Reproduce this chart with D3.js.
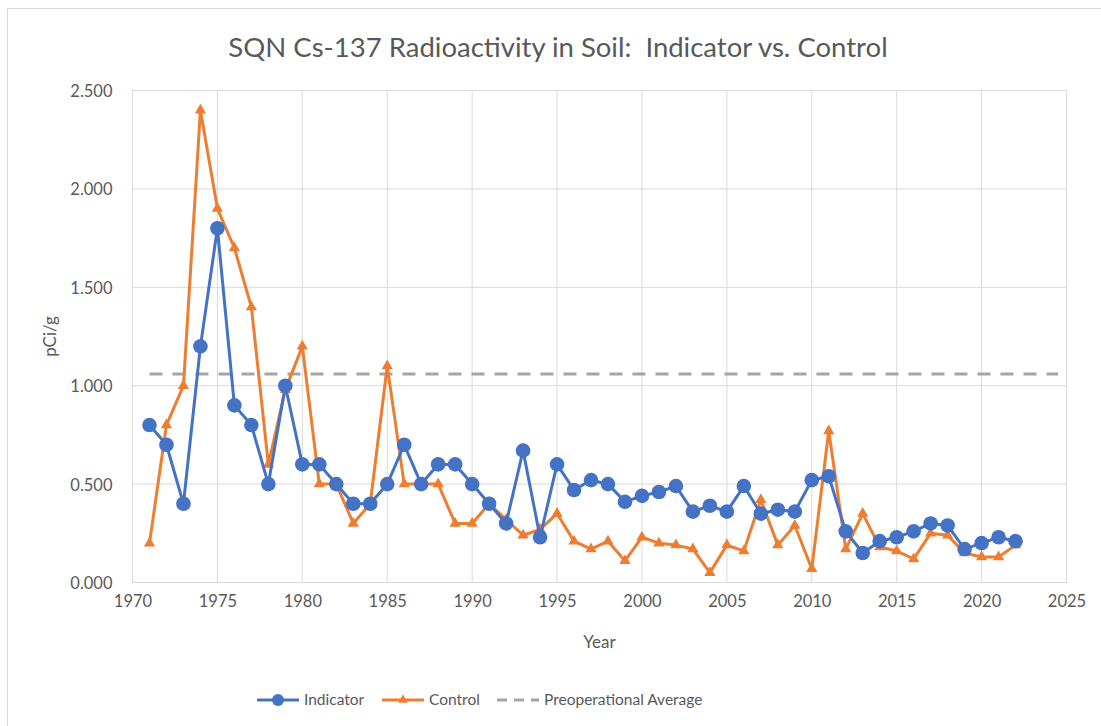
<!DOCTYPE html>
<html>
<head>
<meta charset="utf-8">
<script src="https://cdn.jsdelivr.net/npm/d3@7"></script>
<style>
  body { margin: 0; background: #fff; }
  svg { font-family: Lato, "Open Sans", sans-serif; }
</style>
</head>
<body>
<svg width="1101" height="726"></svg>
<script>
// years sampled
var years = [1971,1972,1973,1974,1975,1976,1977,1978,1979,1980,
             1981,1982,1983,1984,1985,1986,1987,1988,1989,1990,
             1991,1992,1993,1994,1995,1996,1997,1998,1999,2000,
             2001,2002,2003,2004,2005,2006,2007,2008,2009,2010,
             2011,2012,2013,2014,2015,2016,2017,2018,2019,2020,
             2021,2022];

var indicator = [0.80,0.70,0.40,1.20,1.80,0.90,0.80,0.50,1.00,0.60,
                 0.60,0.50,0.40,0.40,0.50,0.70,0.50,0.60,0.60,0.50,
                 0.40,0.30,0.67,0.23,0.60,0.47,0.52,0.50,0.41,0.44,
                 0.46,0.49,0.36,0.39,0.36,0.49,0.35,0.37,0.36,0.52,
                 0.54,0.26,0.15,0.21,0.23,0.26,0.30,0.29,0.17,0.20,
                 0.23,0.21];

var control = [0.20,0.80,1.00,2.40,1.90,1.70,1.40,0.60,0.98,1.20,
               0.50,0.50,0.30,0.40,1.10,0.50,0.50,0.50,0.30,0.30,
               0.40,0.32,0.24,0.27,0.35,0.21,0.17,0.21,0.11,0.23,
               0.20,0.19,0.17,0.05,0.19,0.16,0.42,0.19,0.29,0.07,
               0.77,0.17,0.35,0.18,0.16,0.12,0.25,0.24,0.15,0.13,
               0.13,0.19];

var preopYears = [1971, 2024.5];
var preopValue = 1.06;

var xTicks = [1970,1975,1980,1985,1990,1995,2000,2005,2010,2015,2020,2025];
var yTicks = [0,0.5,1,1.5,2,2.5];

var svg = d3.select("svg"),
    margin = {top: 90.5, right: 34.5, bottom: 143.5, left: 132.5},
    width = +svg.attr("width") - margin.left - margin.right,
    height = +svg.attr("height") - margin.top - margin.bottom;

var textColor = "#595959",
    gridColor = "#d9d9d9";

// outer chart frame
svg.append("rect")
    .attr("x", 7.5).attr("y", 8.5)
    .attr("width", 1110).attr("height", 740)
    .attr("fill", "none")
    .attr("stroke", gridColor);

svg.append("text")
    .attr("x", 558).attr("y", 57)
    .attr("text-anchor", "middle")
    .attr("fill", textColor)
    .style("font-size", "27.5px")
    .style("white-space", "pre")
    .text("SQN Cs-137 Radioactivity in Soil:  Indicator vs. Control");

var x = d3.scaleLinear().domain([1970, 2025]).range([0, width]),
    y = d3.scaleLinear().domain([0, 2.5]).range([height, 0]);

var g = svg.append("g")
    .attr("transform", "translate(" + margin.left + "," + margin.top + ")");

// gridlines
g.append("g")
    .selectAll("line.h")
    .data(yTicks)
    .enter().append("line")
    .attr("x1", 0).attr("x2", width)
    .attr("y1", function(d) { return y(d); })
    .attr("y2", function(d) { return y(d); })
    .attr("stroke", gridColor);

g.append("g")
    .selectAll("line.v")
    .data(xTicks)
    .enter().append("line")
    .attr("x1", function(d) { return x(d); })
    .attr("x2", function(d) { return x(d); })
    .attr("y1", 0).attr("y2", height)
    .attr("stroke", gridColor);

// axes (labels only)
var xAxis = g.append("g")
    .attr("transform", "translate(0," + height + ")")
    .call(d3.axisBottom(x).tickValues(xTicks).tickFormat(d3.format("d")).tickSize(0).tickPadding(13));
var yAxis = g.append("g")
    .call(d3.axisLeft(y).tickValues(yTicks).tickFormat(d3.format(".3f")).tickSize(0).tickPadding(20));

[xAxis, yAxis].forEach(function(a) {
    a.select(".domain").remove();
    a.selectAll("text")
        .attr("fill", textColor)
        .style("font-size", "16.5px")
        .style("font-family", "Lato, sans-serif");
});
yAxis.selectAll("text").attr("dy", "0.36em");

g.append("text")
    .attr("x", width / 2).attr("y", height + 65)
    .attr("text-anchor", "middle")
    .attr("fill", textColor)
    .style("font-size", "17px")
    .text("Year");

g.append("text")
    .attr("transform", "translate(-77," + (height / 2) + ") rotate(-90)")
    .attr("text-anchor", "middle")
    .attr("fill", textColor)
    .style("font-size", "17px")
    .text("pCi/g");

// preoperational average
g.append("line")
    .attr("x1", x(preopYears[0])).attr("x2", x(preopYears[1]))
    .attr("y1", y(preopValue)).attr("y2", y(preopValue))
    .attr("stroke", "#a5a5a5")
    .attr("stroke-width", 3)
    .attr("stroke-dasharray", "13,10");

var blue = "#4472c4", orange = "#ed7d31";

var line = d3.line()
    .x(function(d) { return x(d[0]); })
    .y(function(d) { return y(d[1]); });

var ctrlData = years.map(function(yr, i) { return [yr, control[i]]; });
var indData = years.map(function(yr, i) { return [yr, indicator[i]]; });

var tri = d3.symbol().type(d3.symbolTriangle).size(55);

g.append("path")
    .datum(ctrlData)
    .attr("fill", "none")
    .attr("stroke", orange)
    .attr("stroke-width", 3)
    .attr("stroke-linejoin", "round")
    .attr("d", line);

g.append("g").selectAll("path")
    .data(ctrlData)
    .enter().append("path")
    .attr("d", tri)
    .attr("transform", function(d) { return "translate(" + x(d[0]) + "," + y(d[1]) + ")"; })
    .attr("fill", orange);

g.append("path")
    .datum(indData)
    .attr("fill", "none")
    .attr("stroke", blue)
    .attr("stroke-width", 3)
    .attr("stroke-linejoin", "round")
    .attr("d", line);

g.append("g").selectAll("circle")
    .data(indData)
    .enter().append("circle")
    .attr("cx", function(d) { return x(d[0]); })
    .attr("cy", function(d) { return y(d[1]); })
    .attr("r", 7.3)
    .attr("fill", blue);

// plot frame
g.append("rect")
    .attr("width", width).attr("height", height)
    .attr("fill", "none")
    .attr("stroke", gridColor);

// legend
var legend = svg.append("g").attr("transform", "translate(0,700)");
var items = [
    {name: "Indicator", x: 257, color: blue, mark: "circle", dash: null},
    {name: "Control", x: 382, color: orange, mark: "tri", dash: null},
    {name: "Preoperational Average", x: 497, color: "#a5a5a5", mark: null, dash: "10,7"}
];
items.forEach(function(it) {
    var li = legend.append("g").attr("transform", "translate(" + it.x + ",0)");
    li.append("line")
        .attr("x1", 0).attr("x2", 42)
        .attr("stroke", it.color)
        .attr("stroke-width", 3)
        .attr("stroke-dasharray", it.dash);
    if (it.mark === "circle") {
        li.append("circle").attr("cx", 21).attr("r", 6).attr("fill", it.color);
    } else if (it.mark === "tri") {
        li.append("path").attr("d", d3.symbol().type(d3.symbolTriangle).size(40))
            .attr("transform", "translate(21,0)").attr("fill", it.color);
    }
    li.append("text")
        .attr("x", 47).attr("dy", "0.35em")
        .attr("fill", textColor)
        .style("font-size", "15.5px")
        .text(it.name);
});
</script>
</body>
</html>
